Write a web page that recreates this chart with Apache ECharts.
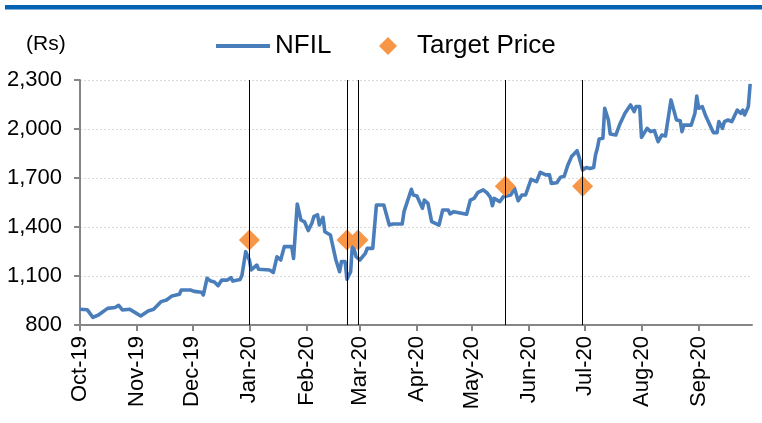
<!DOCTYPE html>
<html>
<head>
<meta charset="utf-8">
<script src="https://cdn.jsdelivr.net/npm/echarts@6/dist/echarts.min.js"></script>
<style>
  html, body { margin: 0; padding: 0; background: #fff; }
  #chart-box { width: 762px; height: 423px; }
</style>
</head>
<body>
<div id="chart-box"></div>
<script>
// NFIL closing price
var dates = ['2019-10-01','2019-10-05','2019-10-08','2019-10-11','2019-10-16','2019-10-20','2019-10-22','2019-10-24','2019-10-28','2019-10-31',
  '2019-11-03','2019-11-07','2019-11-10','2019-11-11','2019-11-14','2019-11-17','2019-11-20','2019-11-24','2019-11-25','2019-11-30',
  '2019-12-01','2019-12-02','2019-12-06','2019-12-07','2019-12-09','2019-12-11','2019-12-13','2019-12-15','2019-12-17','2019-12-20',
  '2019-12-22','2019-12-23','2019-12-27','2019-12-28','2019-12-30','2020-01-01','2020-01-02','2020-01-05','2020-01-06','2020-01-12',
  '2020-01-14','2020-01-16','2020-01-18','2020-01-20','2020-01-24','2020-01-25','2020-01-27','2020-01-29','2020-01-31','2020-02-02',
  '2020-02-04','2020-02-05','2020-02-07','2020-02-08','2020-02-10','2020-02-11','2020-02-14','2020-02-15','2020-02-17','2020-02-19',
  '2020-02-20','2020-02-22','2020-02-23','2020-02-25','2020-02-26','2020-02-28','2020-03-01','2020-03-04','2020-03-05','2020-03-08',
  '2020-03-10','2020-03-14','2020-03-16','2020-03-17','2020-03-19','2020-03-24','2020-03-25','2020-03-26','2020-03-29','2020-03-30',
  '2020-04-01','2020-04-04','2020-04-05','2020-04-07','2020-04-09','2020-04-13','2020-04-15','2020-04-18','2020-04-19','2020-04-21',
  '2020-04-28','2020-04-30','2020-05-02','2020-05-04','2020-05-07','2020-05-09','2020-05-11','2020-05-12','2020-05-13','2020-05-16',
  '2020-05-18','2020-05-22','2020-05-24','2020-05-26','2020-05-28','2020-05-30','2020-06-02','2020-06-05','2020-06-07','2020-06-10',
  '2020-06-12','2020-06-13','2020-06-16','2020-06-18','2020-06-20','2020-06-22','2020-06-24','2020-06-25','2020-06-27','2020-06-28',
  '2020-06-30','2020-07-02','2020-07-04','2020-07-06','2020-07-07','2020-07-08','2020-07-09','2020-07-11','2020-07-12','2020-07-14',
  '2020-07-15','2020-07-18','2020-07-20','2020-07-21','2020-07-23','2020-07-24','2020-07-26','2020-07-28','2020-07-29','2020-07-31',
  '2020-08-01','2020-08-04','2020-08-06','2020-08-08','2020-08-10','2020-08-12','2020-08-14','2020-08-17','2020-08-18','2020-08-20',
  '2020-08-22','2020-08-23','2020-08-24','2020-08-28','2020-08-30','2020-08-31','2020-09-01','2020-09-03','2020-09-05','2020-09-09',
  '2020-09-11','2020-09-12','2020-09-14','2020-09-15','2020-09-17','2020-09-19','2020-09-22','2020-09-24','2020-09-25','2020-09-26',
  '2020-09-28','2020-09-29'];
var prices = [896,893,847,861,902,907,920,892,896,876,
  855,886,896,889,943,953,978,988,1014,1014,
  1024,1006,1000,984,1086,1069,1063,1041,1075,1075,
  1090,1069,1079,1106,1249,1198,1137,1167,1141,1137,
  1122,1218,1198,1280,1280,1208,1541,1443,1431,1378,
  1425,1463,1475,1412,1459,1371,1351,1300,1198,1126,
  1188,1188,1080,1126,1300,1218,1198,1239,1269,1269,
  1535,1535,1453,1412,1418,1418,1494,1498,1631,1596,
  1590,1514,1565,1545,1433,1412,1504,1504,1480,1494,
  1478,1565,1575,1610,1627,1610,1580,1530,1575,1555,
  1586,1596,1637,1561,1596,1596,1692,1678,1735,1719,
  1719,1667,1671,1705,1711,1780,1831,1827,1867,1831,
  1749,1764,1758,1764,1841,1882,1939,1943,2127,2055,
  1969,1963,2024,2014,2096,2100,2147,2106,2137,2137,
  1949,2004,1984,1990,1922,1963,1957,2178,2137,2055,
  2051,1984,2024,2024,2096,2202,2127,2137,2076,1978,
  1978,2045,2004,2045,2055,2045,2116,2096,2116,2086,
  2137,2276];

// target price calls
var targetDates = ['2020-01-01','2020-02-23','2020-02-29','2020-05-19','2020-06-30'];
var targetPrices = [1320,1320,1320,1650,1650];

// axis ticks
var monthTicks = ['2019-10-01','2019-11-01','2019-12-01','2020-01-01','2020-02-01','2020-03-01',
  '2020-04-01','2020-05-01','2020-06-01','2020-07-01','2020-08-01','2020-09-01'];
var monthLabels = ['Oct-19','Nov-19','Dec-19','Jan-20','Feb-20','Mar-20',
  'Apr-20','May-20','Jun-20','Jul-20','Aug-20','Sep-20'];
var yTicks = [800,1100,1400,1700,2000,2300];

var toTime = function (s) { return echarts.number.parseDate(s).getTime(); };
var monthTimes = monthTicks.map(toTime);

var myChart = echarts.init(document.getElementById('chart-box'));
var font = "'Liberation Sans', Arial, sans-serif";

var option = {
    animation: false,
    textStyle: { fontFamily: font },
    title: {
        text: '(Rs)',
        left: 26,
        top: 34,
        padding: 0,
        textStyle: { fontFamily: font, fontSize: 21, fontWeight: 'normal', color: '#000' }
    },
    graphic: [{
        type: 'rect',
        shape: { x: 5, y: 5, width: 757, height: 4.5 },
        style: { fill: '#0563b1' }
    }],
    legend: [{
        data: [{ name: 'NFIL', icon: 'rect' }],
        left: 216,
        top: 33,
        padding: 0,
        itemWidth: 54,
        itemHeight: 4,
        textStyle: { fontFamily: font, fontSize: 26, color: '#000' }
    }, {
        data: ['Target Price'],
        left: 379,
        top: 33,
        padding: 0,
        itemWidth: 18,
        itemHeight: 18,
        itemStyle: { opacity: 1 },
        textStyle: { fontFamily: font, fontSize: 26, color: '#000', padding: [0, 0, 0, 15] }
    }],
    grid: { left: 80, right: 10, top: 80, bottom: 98 },
    xAxis: {
        type: 'value',
        min: toTime('2019-10-01'),
        max: toTime('2020-09-30'),
        axisLine: { lineStyle: { color: '#868686', width: 2 } },
        axisTick: { customValues: monthTimes, length: 6, lineStyle: { color: '#868686', width: 2 } },
        axisLabel: {
            customValues: monthTimes,
            rotate: 90,
            margin: 11,
            fontSize: 22,
            color: '#000',
            fontFamily: font,
            formatter: function (v) {
                var i = monthTimes.indexOf(v);
                return i < 0 ? '' : monthLabels[i];
            }
        },
        splitLine: { show: false }
    },
    yAxis: {
        type: 'value',
        min: 800,
        max: 2300,
        axisLine: { show: true, lineStyle: { color: '#868686', width: 2 } },
        axisTick: { show: true, customValues: yTicks, length: 6, lineStyle: { color: '#868686', width: 2 } },
        axisLabel: {
            customValues: yTicks,
            margin: 18,
            fontSize: 22,
            color: '#000',
            fontFamily: font,
            formatter: function (v) { return v.toLocaleString('en-US'); }
        },
        splitLine: { show: true, lineStyle: { color: '#d9d9d9', type: [2, 2], width: 1 } }
    },
    series: [{
        name: 'NFIL',
        type: 'line',
        showSymbol: false,
        symbol: 'none',
        color: '#4a7ebb',
        lineStyle: { width: 3.6, color: '#4a7ebb', join: 'round' },
        data: dates.map(function (d, i) { return [toTime(d), prices[i]]; }),
        markLine: {
            silent: true,
            symbol: 'none',
            label: { show: false },
            lineStyle: { color: '#000', width: 1, type: 'solid' },
            data: targetDates.map(function (d) { return { xAxis: toTime(d) }; })
        },
        z: 2
    }, {
        name: 'Target Price',
        type: 'scatter',
        symbol: 'diamond',
        symbolSize: 21,
        color: '#f79646',
        itemStyle: { color: '#f79646', opacity: 1 },
        data: targetDates.map(function (d, i) { return [toTime(d), targetPrices[i]]; }),
        z: 3
    }]
};
myChart.setOption(option);
</script>
</body>
</html>
